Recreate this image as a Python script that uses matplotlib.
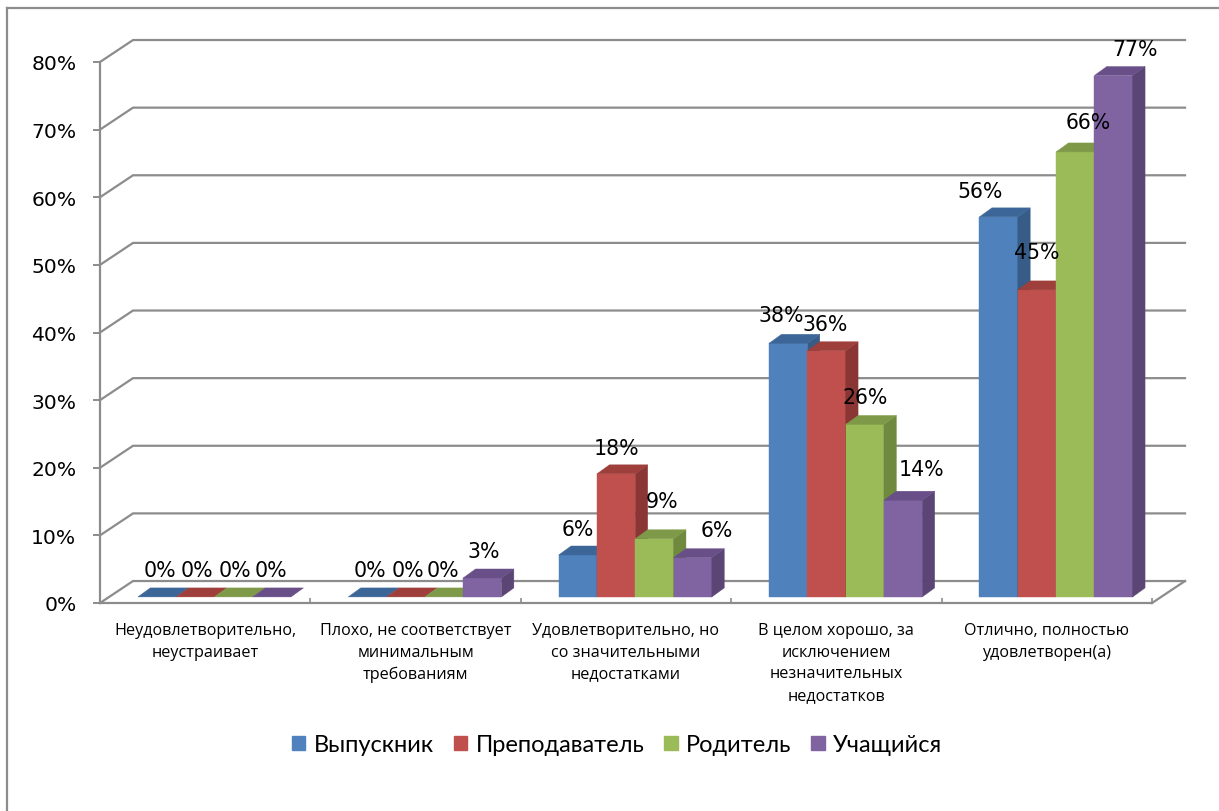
import matplotlib
matplotlib.use("Agg")
import matplotlib.pyplot as plt
from matplotlib.patches import Polygon, Patch
from matplotlib.lines import Line2D

# ---------------- data ----------------
categories = [
    "Неудовлетворительно,\nнеустраивает",
    "Плохо, не соответствует\nминимальным\nтребованиям",
    "Удовлетворительно, но\nсо значительными\nнедостатками",
    "В целом хорошо, за\nисключением\nнезначительных\nнедостатков",
    "Отлично, полностью\nудовлетворен(а)",
]
series_names = ["Выпускник", "Преподаватель", "Родитель", "Учащийся"]
vypusknik = [0, 0, 6.2, 37.5, 56.2]
prepodavatel = [0, 0, 18.2, 36.4, 45.4]
roditel = [0, 0, 8.6, 25.5, 65.8]
uchashchiysya = [0, 2.8, 5.8, 14.3, 77.1]
y_ticks = [0, 10, 20, 30, 40, 50, 60, 70, 80]
y_tick_labels = ["0%", "10%", "20%", "30%", "40%", "50%", "60%", "70%", "80%"]

series_values = [vypusknik, prepodavatel, roditel, uchashchiysya]

# ---------------- style ----------------
front_colors = ["#4F81BD", "#C0504D", "#9BBB59", "#8064A2"]
side_colors = ["#375C88", "#8A3634", "#6F893F", "#5A4575"]
top_colors = ["#3D6698", "#9E3F3C", "#7E9A48", "#684F88"]
grid_color = "#8C8C8C"

# 3D geometry (data units)
WALL_DX, WALL_DY = 0.157, 3.25      # depth offset of back wall
BAR_DX, BAR_DY = 0.059, 1.33        # depth of a bar
BAR_BASE = 0.9                      # bar front plane baseline
BAR_W = 0.182
GROUP_START = -0.320

# label nudges in pixels (dx, dy above bar front top)
label_nudge = {
    (0, 0): (3, 27), (1, 0): (2, 27), (2, 0): (1, 27), (3, 0): (-1, 27),
    (0, 1): (3, 27), (1, 1): (2, 27), (2, 1): (-1, 27), (3, 1): (1, 27),
    (0, 2): (0, 26), (1, 2): (0, 26), (2, 2): (8, 38), (3, 2): (24, 28),
    (0, 3): (-7, 28), (1, 3): (-1, 27), (2, 3): (0, 27), (3, 3): (18, 31),
    (0, 4): (-19, 26), (1, 4): (0, 38), (2, 4): (13, 30), (3, 4): (22, 27),
}

W, H = 1219, 812
fig = plt.figure(figsize=(W / 100, H / 100), dpi=100)
fig.patch.set_facecolor("white")

px_per_cat = 210.4
px_per_pct = 6.7625
ax = fig.add_axes([100 / W, 208 / H, 5.2 * px_per_cat / W, 84 * px_per_pct / H])
ax.set_xlim(-0.5, 4.7)
ax.set_ylim(0, 84)
ax.set_facecolor("none")

n_cat = len(categories)
x_left, x_right = -0.5, n_cat - 0.5

# back wall gridlines with diagonals
for v in y_ticks:
    ax.plot([x_left, x_left + WALL_DX, x_right + WALL_DX],
            [v, v + WALL_DY, v + WALL_DY],
            color=grid_color, lw=1.6, zorder=1, clip_on=False,
            solid_joinstyle="miter")
# floor right edge
ax.plot([x_right, x_right + WALL_DX], [0, WALL_DY], color=grid_color,
        lw=1.6, zorder=1, clip_on=False)

# bars
for ci in range(n_cat):
    for si, vals in enumerate(series_values):
        v = vals[ci]
        x0 = ci + GROUP_START + si * BAR_W
        x1 = x0 + BAR_W
        y0 = BAR_BASE
        y1 = BAR_BASE + v
        if v > 0:
            ax.bar(x0, v, width=BAR_W, bottom=y0, align="edge",
                   color=front_colors[si], edgecolor=front_colors[si],
                   linewidth=0.3, zorder=3)
            side = Polygon([(x1, y0), (x1 + BAR_DX, y0 + BAR_DY),
                            (x1 + BAR_DX, y1 + BAR_DY), (x1, y1)],
                           closed=True, facecolor=side_colors[si],
                           edgecolor=side_colors[si], lw=0.3, zorder=3)
            ax.add_patch(side)
        top = Polygon([(x0, y1), (x1, y1), (x1 + BAR_DX, y1 + BAR_DY),
                       (x0 + BAR_DX, y1 + BAR_DY)], closed=True,
                      facecolor=top_colors[si], edgecolor=top_colors[si],
                      lw=0.3, zorder=3)
        ax.add_patch(top)

# data labels
for ci in range(n_cat):
    for si, vals in enumerate(series_values):
        v = vals[ci]
        xc = ci + GROUP_START + (si + 0.5) * BAR_W
        dx, dy = label_nudge[(si, ci)]
        ax.annotate(f"{int(v + 0.5)}%", xy=(xc, BAR_BASE + v),
                    xytext=(dx, dy), textcoords="offset pixels",
                    ha="center", va="center", fontsize=14.8,
                    family="DejaVu Sans", color="black", zorder=5)

# spines / axes
for s in ["top", "right"]:
    ax.spines[s].set_visible(False)
ax.spines["left"].set_bounds(0, 80)
ax.spines["bottom"].set_bounds(x_left, x_right)
for s in ["left", "bottom"]:
    ax.spines[s].set_color(grid_color)
    ax.spines[s].set_linewidth(1.6)
    ax.spines[s].set_zorder(2)

ax.set_yticks(y_ticks)
ax.set_yticklabels(y_tick_labels, fontsize=14.6, family="DejaVu Sans")
ax.tick_params(axis="y", direction="out", length=5, width=1.4,
               color=grid_color, pad=12)

ax.set_xticks([x_left + i for i in range(n_cat + 1)])
ax.set_xticklabels([])
ax.tick_params(axis="x", which="major", direction="in", length=3.6,
               width=1.2, color=grid_color)
ax.set_xticks(list(range(n_cat)), minor=True)
ax.set_xticklabels(categories, minor=True, fontsize=11.6,
                   family="Open Sans", linespacing=1.48, va="top")
ax.tick_params(axis="x", which="minor", length=0, pad=13.5)

# legend
handles = [Patch(facecolor=c, edgecolor=c) for c in front_colors]
fig.legend(handles, series_names, loc="center",
           bbox_to_anchor=(617 / W, 1 - 746 / H), ncol=4, frameon=False,
           prop={"family": "Lato", "size": 17}, handlelength=0.57,
           handleheight=0.57, handletextpad=0.35, columnspacing=0.85)

# outer border (top and left)
fig.add_artist(Line2D([7 / W, 1.0], [1 - 9 / H, 1 - 9 / H],
                      transform=fig.transFigure, color=grid_color, lw=1.6))
fig.add_artist(Line2D([7 / W, 7 / W], [0, 1 - 9 / H],
                      transform=fig.transFigure, color=grid_color, lw=1.6))

fig.savefig("out.png", dpi=100, facecolor="white")
